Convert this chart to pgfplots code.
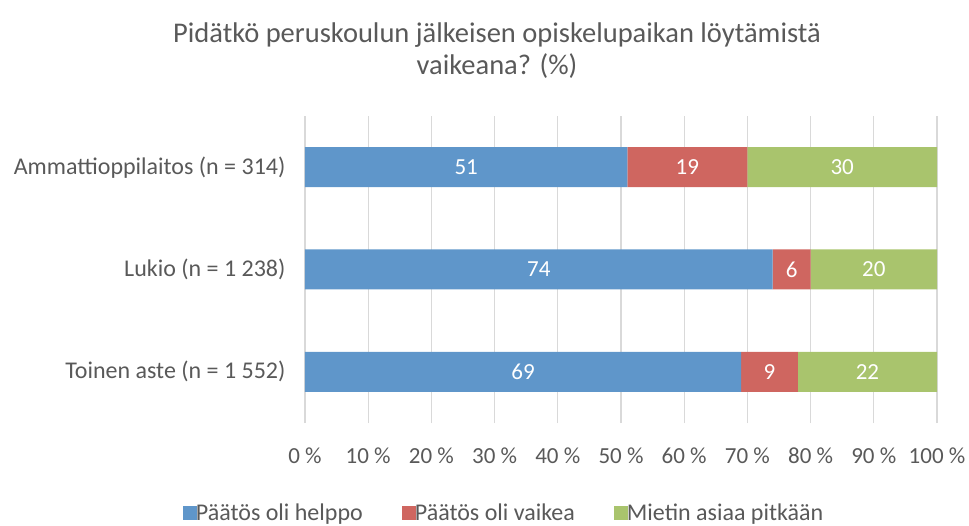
\documentclass[border=0pt]{standalone}
\usepackage{pgfplots}
\pgfplotsset{compat=1.18}
\usepackage{fontspec}
\setmainfont{Carlito}
\definecolor{helppo}{HTML}{5F96CA}
\definecolor{vaikea}{HTML}{CF6660}
\definecolor{pitkaan}{HTML}{A9C46D}
\definecolor{gridgray}{HTML}{D9D9D9}
\definecolor{textgray}{HTML}{595959}

\pgfplotsset{
    segment/.style={
        fill=#1, draw=none,
        nodes near coords,
        point meta=rawx,
        every node near coord/.append style={
            font=\fontsize{23}{23}\selectfont, text=white, anchor=center},
    },
}

\begin{document}
\begin{tikzpicture}
\path[use as bounding box] (0pt,0pt) rectangle (969pt,525pt);
\node[text=textgray, font=\fontsize{28.5}{32}\selectfont, align=center] at (497pt,474pt)
    {Pidätkö peruskoulun jälkeisen opiskelupaikan löytämistä\\vaikeana? (\%)};
\begin{axis}[
    at={(305pt,102pt)}, anchor=south west,
    scale only axis, width=632pt, height=307pt,
    xbar stacked, bar width=40pt,
    xmin=0, xmax=100, ymin=-0.5, ymax=2.5,
    xtick={0,10,...,100},
    xticklabel={\pgfmathprintnumber{\tick}~\%},
    ytick={0,1,2},
    yticklabels={Toinen aste (n = 1 552), Lukio (n = 1 238), Ammattioppilaitos (n = 314)},
    xmajorgrids, grid style={gridgray, line width=1.2pt},
    axis line style={draw=none},
    major tick length=0pt,
    tick label style={text=textgray, font=\fontsize{23}{23}\selectfont},
    yticklabel style={font=\fontsize{24}{24}\selectfont, xshift=-16pt},
    /pgf/number format/assume math mode=true,
    xticklabel style={yshift=-21pt},
    legend style={draw=none, at={(0.315,-0.292)}, anchor=center,
        legend columns=-1, font=\fontsize{24}{24}\selectfont, text=textgray,
        /tikz/every even column/.append style={column sep=37pt},
        /tikz/every odd column/.append style={column sep=-3pt}},
    legend image code/.code={\fill[#1] (0pt,-7pt) rectangle (14pt,7pt);},
]
\addplot[segment=helppo] coordinates {(69,0) (74,1) (51,2)};
\addplot[segment=vaikea] coordinates {(9,0) (6,1) (19,2)};
\addplot[segment=pitkaan] coordinates {(22,0) (20,1) (30,2)};
\legend{Päätös oli helppo, Päätös oli vaikea, Mietin asiaa pitkään}
\end{axis}
\end{tikzpicture}
\end{document}
